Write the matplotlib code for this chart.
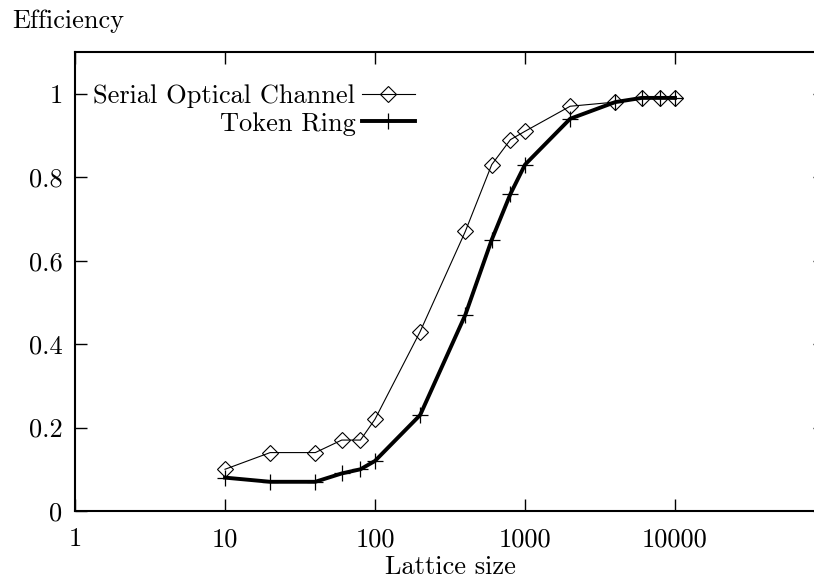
import numpy as np
import matplotlib
matplotlib.use("Agg")
import matplotlib.pyplot as plt

# lattice sizes (shared by both series)
lattice = [10, 20, 40, 60, 80, 100, 200, 400, 600, 800, 1000, 2000, 4000, 6000, 8000, 10000]
serial_optical = [0.10, 0.14, 0.14, 0.17, 0.17, 0.22, 0.43, 0.67, 0.83, 0.89, 0.91, 0.97, 0.98, 0.99, 0.99, 0.99]
token_ring = [0.08, 0.07, 0.07, 0.09, 0.10, 0.12, 0.23, 0.47, 0.65, 0.76, 0.83, 0.94, 0.98, 0.99, 0.99, 0.99]

xticks = [1, 10, 100, 1000, 10000]
xtick_labels = ["1", "10", "100", "1000", "10000"]
yticks = [0, 0.2, 0.4, 0.6, 0.8, 1]
ytick_labels = ["0", "0.2", "0.4", "0.6", "0.8", "1"]

plt.rcParams["font.family"] = ["cmr10", "DejaVu Serif"]
plt.rcParams["axes.formatter.use_mathtext"] = True
fs = 19

W, H = 814, 580
fig = plt.figure(figsize=(W / 100, H / 100), dpi=100)
# axes box in pixels: left 75, right 825 (just past the image edge), top 52, bottom 511
ax = fig.add_axes([75 / W, (H - 511) / H, 750 / W, 459 / H])

ax.plot(lattice, serial_optical, color="black", lw=0.8, marker="D", ms=8.5,
        fillstyle="none", mew=0.8, label="Serial Optical Channel")
ax.plot(lattice, token_ring, color="black", lw=2.8, marker="+", ms=11,
        mew=0.9, label="Token Ring")

ax.set_xscale("log")
ax.set_xlim(1, 100000)
ax.set_ylim(0, 1.1)
ax.set_xticks(xticks + [100000])
ax.set_xticklabels(xtick_labels + [""])
ax.minorticks_off()
ax.set_yticks(yticks)
ax.set_yticklabels(ytick_labels)

ax.tick_params(direction="in", length=8.5, width=1.0, labelsize=fs,
               top=True, right=True)
ax.tick_params(axis="x", pad=12)
ax.tick_params(axis="y", pad=9)
for s in ax.spines.values():
    s.set_linewidth(1.5)

ax.set_xlabel("Lattice size", fontsize=fs, labelpad=3)
fig.text(12 / W, 1 - 21 / H, "Efficiency", fontsize=fs, va="center", ha="left")

leg = ax.legend(loc="upper right", bbox_to_anchor=(0.453, 0.93), frameon=False,
                markerfirst=False, numpoints=1, fontsize=fs, handlelength=2.0,
                handletextpad=0.25, labelspacing=0.15, borderpad=0, borderaxespad=0)

fig.savefig("out.png", dpi=100)
